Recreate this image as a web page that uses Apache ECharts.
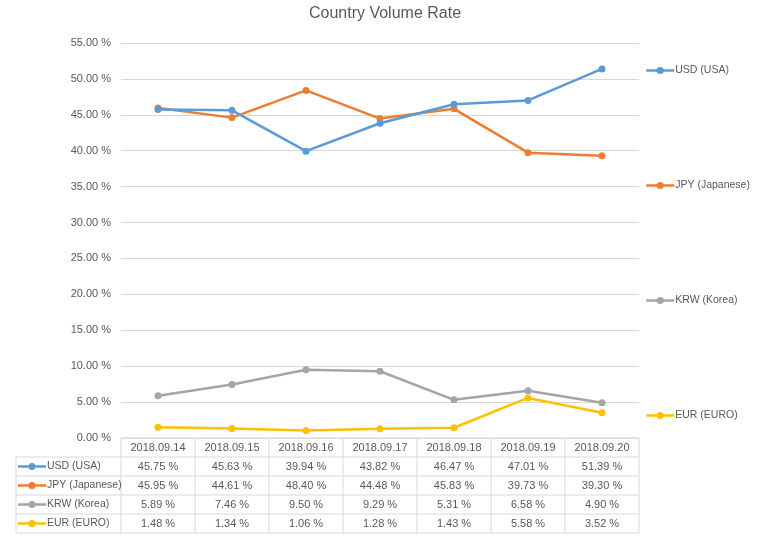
<!DOCTYPE html>
<html><head><meta charset="utf-8">
<script src="https://cdn.jsdelivr.net/npm/echarts@6/dist/echarts.min.js"></script>
<style>html,body{margin:0;padding:0;background:#fff}#c{width:757px;height:543px}</style>
</head><body><div id="c"></div>
<script>
const categories = ['2018.09.14','2018.09.15','2018.09.16','2018.09.17','2018.09.18','2018.09.19','2018.09.20'];
const seriesNames = ['USD (USA)','JPY (Japanese)','KRW (Korea)','EUR (EURO)'];
const usd = [45.75,45.63,39.94,43.82,46.47,47.01,51.39];
const jpy = [45.95,44.61,48.40,44.48,45.83,39.73,39.30];
const krw = [5.89,7.46,9.50,9.29,5.31,6.58,4.90];
const eur = [1.48,1.34,1.06,1.28,1.43,5.58,3.52];
const colors = ['#5B9BD5','#ED7D31','#A5A5A5','#FFC000'];
const allData = [usd,jpy,krw,eur];

const FONT = 'Liberation Sans';
const TXT = '#595959';
const GRID = '#D9D9D9';

const chart = echarts.init(document.getElementById('c'), null, {renderer:'canvas'});
const legendTops = [65,180,295,410];
const option = {
  animation:false,
  backgroundColor:'#fff',
  textStyle:{fontFamily:FONT},
  title:{text:'Country Volume Rate',left:380,textAlign:'center',top:1,
    textStyle:{fontFamily:FONT,fontSize:16,fontWeight:'normal',color:TXT}},
  grid:{left:121,right:118,top:43,bottom:105,containLabel:false},
  legend: seriesNames.map((n,i)=>({data:[n],left:645,top:legendTops[i],orient:'vertical',
    itemWidth:28,itemHeight:9,itemGap:0,padding:0,
    lineStyle:{width:2.5},
    textStyle:{fontFamily:FONT,fontSize:10.5,color:TXT,padding:[0,0,0,-4]}})),
  xAxis:{type:'category',data:categories,boundaryGap:true,
    axisLine:{show:true,lineStyle:{color:GRID}},axisTick:{show:false},axisLabel:{show:false},
    splitLine:{show:false}},
  yAxis:{type:'value',min:0,max:55,interval:5,
    axisLine:{show:false},axisTick:{show:false},
    axisLabel:{formatter:v=>v.toFixed(2)+' %',fontFamily:FONT,fontSize:11,color:TXT,margin:10},
    splitLine:{lineStyle:{color:GRID,width:1}}},
  series: seriesNames.map((n,i)=>({name:n,type:'line',data:allData[i],
    symbol:'circle',symbolSize:7,lineStyle:{width:2.5,color:colors[i]},
    itemStyle:{color:colors[i]},z:10-i}))
};
chart.setOption(option);

function drawTable(){
  const y0 = chart.convertToPixel({yAxisIndex:0},0);
  const c0 = chart.convertToPixel({xAxisIndex:0},0);
  const c1 = chart.convertToPixel({xAxisIndex:0},1);
  const w = c1-c0;
  const xs = categories.map((_,i)=>chart.convertToPixel({xAxisIndex:0},i));
  const leftEdge = xs[0]-w/2;
  const rightEdge = xs[xs.length-1]+w/2;
  const tableLeft = 16;
  const rowH = 19;
  const g = [];
  const line = (x1,y1,x2,y2)=>g.push({type:'line',shape:{x1,y1,x2,y2},style:{stroke:GRID,lineWidth:1},silent:true});
  const nRows = 1+seriesNames.length;
  line(leftEdge,y0,rightEdge,y0);
  for(let r=1;r<=nRows;r++){ line(tableLeft,y0+r*rowH,rightEdge,y0+r*rowH); }
  line(tableLeft,y0+rowH,tableLeft,y0+nRows*rowH);
  for(let i=0;i<=categories.length;i++){
    const x = leftEdge+i*w;
    line(x,y0,x,y0+nRows*rowH);
  }
  categories.forEach((c,i)=>g.push({type:'text',x:xs[i],y:y0+rowH/2,
    style:{text:c,font:'11px '+FONT,fill:TXT,align:'center',verticalAlign:'middle'},silent:true}));
  seriesNames.forEach((n,r)=>{
    const yc = y0+(r+1)*rowH+rowH/2;
    g.push({type:'line',shape:{x1:18,y1:yc,x2:46,y2:yc},style:{stroke:colors[r],lineWidth:2.5},silent:true});
    g.push({type:'circle',shape:{cx:32,cy:yc,r:3.5},style:{fill:colors[r]},silent:true});
    g.push({type:'text',x:47,y:yc,style:{text:n,font:'10.5px '+FONT,fill:TXT,align:'left',verticalAlign:'middle'},silent:true});
    allData[r].forEach((v,i)=>g.push({type:'text',x:xs[i],y:yc,
      style:{text:v.toFixed(2)+' %',font:'11px '+FONT,fill:TXT,align:'center',verticalAlign:'middle'},silent:true}));
  });
  chart.setOption({graphic:{elements:g}});
}
drawTable();
</script></body></html>
